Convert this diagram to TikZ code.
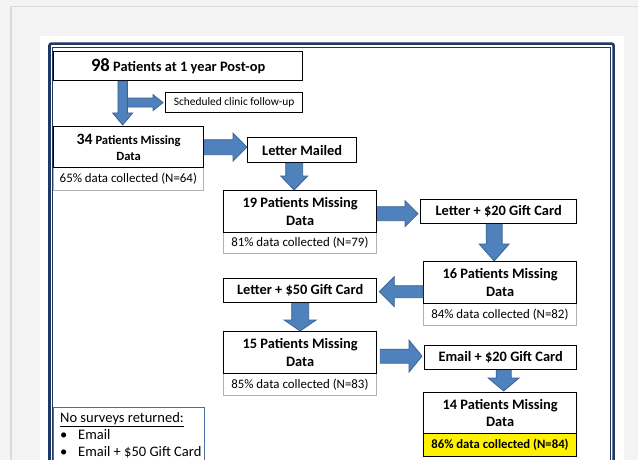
\documentclass[tikz,border=0pt]{standalone}
\usepackage{fontspec}
\setmainfont{Carlito}
\usetikzlibrary{calc}
\definecolor{arrowblue}{HTML}{4F81BD}
\definecolor{arrowedge}{HTML}{3A6494}
\definecolor{framecol}{RGB}{31,56,100}
\definecolor{legcol}{HTML}{4A6FA0}
\definecolor{bggray}{HTML}{F3F3F3}
\definecolor{linegray}{HTML}{DADADA}
\tikzset{
 mainbox/.style={draw=black, line width=1.3pt, fill=white, inner sep=0pt, align=center, anchor=north west, font=\bfseries\fontsize{14.4}{17.5}\selectfont},
 subbox/.style={draw=gray!60, line width=0.7pt, fill=white, inner sep=0pt, anchor=north west, font=\fontsize{12.9}{15}\selectfont},
 barrow/.style={fill=arrowblue, draw=arrowedge, line width=0.8pt, line join=miter},
 legtext/.style={anchor=base west, inner sep=0pt, font=\fontsize{14.5}{17}\selectfont},
}
% down arrow: start (top), tip, shaft half, head half, head length
\newcommand\arrD[5]{\draw[barrow] ($(#1)+(-#3,0)$) -- ($(#2)+(-#3,-#5)$) -- ($(#2)+(-#4,-#5)$) -- (#2) -- ($(#2)+(#4,-#5)$) -- ($(#2)+(#3,-#5)$) -- ($(#1)+(#3,0)$) -- cycle;}
% right arrow
\newcommand\arrR[5]{\draw[barrow] ($(#1)+(0,-#3)$) -- ($(#2)+(-#5,-#3)$) -- ($(#2)+(-#5,-#4)$) -- (#2) -- ($(#2)+(-#5,#4)$) -- ($(#2)+(-#5,#3)$) -- ($(#1)+(0,#3)$) -- cycle;}
% left arrow
\newcommand\arrL[5]{\draw[barrow] ($(#1)+(0,-#3)$) -- ($(#2)+(#5,-#3)$) -- ($(#2)+(#5,-#4)$) -- (#2) -- ($(#2)+(#5,#4)$) -- ($(#2)+(#5,#3)$) -- ($(#1)+(0,#3)$) -- cycle;}
\begin{document}
\begin{tikzpicture}[x=1pt,y=-1pt]
\useasboundingbox (0,0) rectangle (638,460);
\clip (0,0) rectangle (638,460);
% backgrounds
\fill[bggray] (0,0) rectangle (638,460);
\draw[linegray, line width=1.6pt] (11,470) -- (11,6.7) -- (650,6.7);
\fill[white] (40,36) rectangle (624,470);
\draw[framecol, line width=2.6pt, rounded corners=2pt] (49.5,480) -- (49.5,43.6) -- (613.6,43.6) -- (613.6,480);
\draw[framecol, line width=0.8pt] (52.3,480) -- (52.3,47) -- (610.8,47) -- (610.8,480);

% boxes
\node[mainbox, minimum width=249pt, minimum height=29pt] (b1) at (53,51)
 {{\fontsize{18.7}{20}\selectfont 98} Patients at 1 year Post-op};
\node[mainbox, minimum width=137pt, minimum height=20pt, line width=1.2pt, font=\fontsize{11.4}{13}\selectfont] (sched) at (165,92) {Scheduled clinic follow-up};

\node[subbox, minimum width=150pt, minimum height=23pt] (s34) at (53,167) {65\% data collected (N=64)};
\node[mainbox, minimum width=150pt, minimum height=41pt, font=\bfseries\fontsize{12.6}{16}\selectfont] (b34) at (53,126)
 {{\fontsize{15.8}{16}\selectfont 34} Patients Missing\\Data};

\node[mainbox, minimum width=109pt, minimum height=25pt] (lm) at (247,137) {Letter Mailed};

\node[subbox, minimum width=153pt, minimum height=21pt] (s19) at (223,232) {81\% data collected (N=79)};
\node[mainbox, minimum width=153pt, minimum height=42pt] (b19) at (223,190) {19 Patients Missing\\Data};

\node[mainbox, minimum width=156pt, minimum height=24pt] (l20) at (420,199) {Letter + \$20 Gift Card};

\node[subbox, minimum width=153pt, minimum height=22pt] (s16) at (423,303) {84\% data collected (N=82)};
\node[mainbox, minimum width=153pt, minimum height=42pt] (b16) at (423,261) {16 Patients Missing\\Data};

\node[mainbox, minimum width=153pt, minimum height=24pt] (l50) at (223,278) {Letter + \$50 Gift Card};

\node[subbox, minimum width=153pt, minimum height=22pt] (s15) at (223,373) {85\% data collected (N=83)};
\node[mainbox, minimum width=153pt, minimum height=42pt] (b15) at (223,331) {15 Patients Missing\\Data};

\node[mainbox, minimum width=152pt, minimum height=24pt] (e20) at (424,345) {Email + \$20 Gift Card};

\node[subbox, draw=black, line width=1pt, fill=yellow, minimum width=153pt, minimum height=23pt, font=\bfseries\fontsize{12.7}{15}\selectfont] (s14) at (423,433) {86\% data collected (N=84)};
\node[mainbox, minimum width=153pt, minimum height=41pt] (b14) at (423,392) {14 Patients Missing\\Data};

% legend
\draw[legcol, line width=1pt, fill=white] (53,407) rectangle (204,475);
\node[legtext] (lg0) at (60,422) {\underline{No surveys returned:}};
\node[legtext] (lgb1) at (60,439.5) {•};
\node[legtext] (lg1) at (78,439.5) {Email};
\node[legtext] (lgb2) at (60,456.5) {•};
\node[legtext] (lg2) at (78,456.5) {Email + \$50 Gift Card};

% arrows
\coordinate (t1) at ([xshift=-6pt,yshift=1pt]b34.north);
\coordinate (s1) at (t1 |- b1.south);
\coordinate (t2) at ([xshift=-2pt]sched.west);
\coordinate (s2a) at (t2 -| t1);
\coordinate (s2) at ([xshift=4.7pt]s2a);
\arrR{s2}{t2}{4.5}{8}{10}
\arrD{s1}{t1}{4.7}{10}{12}

\coordinate (t3) at (b34.east -| lm.west);
\arrR{b34.east}{t3}{7.5}{14}{14}

\coordinate (t4) at ([xshift=-6pt]b19.north);
\coordinate (s4) at (t4 |- lm.south);
\arrD{s4}{t4}{8.5}{13.5}{14}

\coordinate (s5) at ([yshift=-2pt]b19.east);
\coordinate (t5a) at (s5 -| l20.west);
\coordinate (t5) at ([xshift=-2pt]t5a);
\arrR{s5}{t5}{7}{13}{13}

\coordinate (t6) at ([xshift=-6pt]b16.north);
\coordinate (s6) at (t6 |- l20.south);
\arrD{s6}{t6}{8}{15}{17}

\coordinate (t7) at ([xshift=2pt,yshift=-1pt]l50.east);
\coordinate (s7) at (t7 -| b16.west);
\arrL{s7}{t7}{6}{15}{15}

\coordinate (s8) at (b15.north |- l50.south);
\arrD{s8}{b15.north}{8.5}{16}{11}

\coordinate (t9) at ([xshift=-2pt,yshift=1.5pt]e20.west);
\coordinate (s9a) at (t9 -| b15.east);
\coordinate (s9) at ([xshift=3pt]s9a);
\arrR{s9}{t9}{7}{16}{13}

\coordinate (t10) at ([xshift=3.5pt,yshift=1pt]b14.north);
\coordinate (s10) at (t10 |- e20.south);
\arrD{s10}{t10}{7.5}{15.5}{13}
\end{tikzpicture}
\end{document}
